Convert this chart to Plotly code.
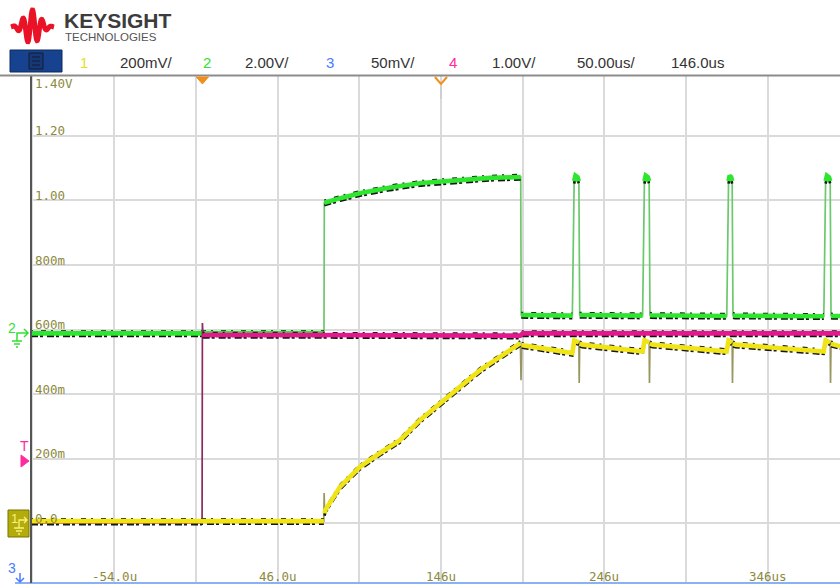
import numpy as np
import plotly.graph_objects as go

# ---------------- data (time in us, value in screen volts of ch1 scale) ----------------
T_RANGE = [-104.9, 390.2]
V_RANGE = [-0.186, 1.386]

Y_TICKS = [0.0, 0.2, 0.4, 0.6, 0.8, 1.0, 1.2]
Y_TICK_TEXT = ["0.0", "200m", "400m", "600m", "800m", "1.00", "1.20"]
X_TICKS = [-54, 46, 146, 246, 346]
X_TICK_TEXT = ["-54.0u", "46.0u", "146u", "246u", "346us"]

# channel 2 (green)
green_t = [-104.9, 74.4, 74.6, 79, 85, 97, 115, 134, 157, 176, 194.8, 195.1, 196.5,
           226.4, 227.5, 228.3, 229.6, 230.4, 230.9, 232.0,
           269.4, 270.5, 271.3, 272.6, 273.4, 273.9, 275.0,
           320.9, 322.0, 322.6, 323.6, 324.2, 324.7, 325.8,
           380.3, 381.4, 382.2, 383.5, 384.2, 384.7, 385.8, 390.2]
green_v = [0.588, 0.588, 0.993, 1.000, 1.008, 1.023, 1.040, 1.054, 1.064, 1.070, 1.073, 0.645, 0.645,
           0.643, 1.060, 1.077, 1.072, 1.060, 0.645, 0.645,
           0.643, 1.060, 1.077, 1.072, 1.060, 0.645, 0.644,
           0.642, 1.060, 1.077, 1.072, 1.060, 0.644, 0.643,
           0.641, 1.060, 1.077, 1.072, 1.060, 0.643, 0.642, 0.642]

# channel 4 (pink)
pink_t = [-104.9, -0.2, 0.0, 0.3, 0.8, 60, 120, 194.5, 196, 260, 330, 390.2]
pink_v = [0.004, 0.004, 0.620, 0.585, 0.583, 0.583, 0.582, 0.581, 0.588, 0.588, 0.587, 0.588]

# channel 1 (yellow)
yellow_t = [-104.9, 74.3, 74.5, 74.8, 75.2, 84.2, 96.4, 108.7, 120.9, 133.1, 145.4, 157.6, 169.9,
            182.1, 194.6, 195.0, 195.4, 197.5,
            226.4, 227.6, 230.4, 230.6, 230.9, 232.5,
            269.4, 270.6, 273.4, 273.6, 273.9, 275.5,
            320.8, 322.0, 324.2, 324.4, 324.7, 326.3,
            380.2, 381.4, 384.2, 384.4, 384.7, 386.3, 390.2]
yellow_v = [0.006, 0.006, 0.093, 0.030, 0.040, 0.112, 0.174, 0.217, 0.257, 0.319, 0.372, 0.422, 0.474,
            0.515, 0.558, 0.443, 0.552, 0.550,
            0.527, 0.566, 0.560, 0.434, 0.556, 0.553,
            0.532, 0.566, 0.560, 0.434, 0.556, 0.553,
            0.532, 0.566, 0.560, 0.434, 0.556, 0.553,
            0.532, 0.566, 0.560, 0.434, 0.556, 0.553, 0.548]

HEADER_ITEMS = [("1", "#e6df1c"), ("200mV/", "#333333"), ("2", "#33e033"), ("2.00V/", "#333333"),
                ("3", "#4a7cff"), ("50mV/", "#333333"), ("4", "#ff2aa0"), ("1.00V/", "#333333"),
                ("50.00us/", "#333333"), ("146.0us", "#333333")]
HEADER_X = [84, 146, 207, 267, 330, 393, 453, 514, 606, 697]

GREEN = "#2fe62f"
PINK = "#e4178d"
YELLOW = "#f0e414"
LABEL_COLOR = "#8c8a3c"

# ---------------- helpers ----------------
W, H = 840, 585
L, R, TOP, B = 31, 0, 76, 2
PW, PH = W - L - R, H - TOP - B
V_PER_PX = (V_RANGE[1] - V_RANGE[0]) / PH


def px(x):
    return (x - L) / PW


def py(y):
    return (H - B - y) / PH


def thick_parts(t, v, slope=0.05):
    ot, ov = [], []
    for i in range(len(t)):
        if i > 0:
            dt = abs(t[i] - t[i - 1]) + 1e-9
            if abs(v[i] - v[i - 1]) / dt > slope:
                ot.append(None)
                ov.append(None)
        ot.append(t[i])
        ov.append(v[i])
    return ot, ov


fig = go.Figure()


def add_channel(t, v, color, edge_color):
    fig.add_trace(go.Scatter(x=t, y=v, mode="lines", line=dict(color=edge_color, width=1.7),
                             hoverinfo="skip", showlegend=False))
    tt, vv = thick_parts(t, v)
    lo = [None if a is None else a - 2.5 * V_PER_PX for a in vv]
    hi = [None if a is None else a + 2.3 * V_PER_PX for a in vv]
    fig.add_trace(go.Scatter(x=tt, y=lo, mode="lines",
                             line=dict(color="#151515", width=2.6, dash="7px,2px,3px,4px"),
                             hoverinfo="skip", showlegend=False))
    fig.add_trace(go.Scatter(x=tt, y=hi, mode="lines",
                             line=dict(color="#151515", width=1.8, dash="2px,8px,5px,5px"),
                             hoverinfo="skip", showlegend=False))
    fig.add_trace(go.Scatter(x=tt, y=vv, mode="lines", line=dict(color=color, width=4.6),
                             hoverinfo="skip", showlegend=False))


add_channel(green_t, green_v, GREEN, "#6cc86c")
add_channel(pink_t, pink_v, PINK, "#8a2a5e")
add_channel(yellow_t, yellow_v, YELLOW, "#9a9660")

grid = dict(gridcolor="#dadada", gridwidth=2)

fig.update_layout(
    width=W, height=H,
    margin=dict(l=L, r=R, t=TOP, b=B),
    paper_bgcolor="white", plot_bgcolor="white",
    showlegend=False,
    xaxis=dict(range=T_RANGE, tickvals=X_TICKS, showgrid=True, showticklabels=False,
               minor=dict(tick0=-54, dtick=50, showgrid=True, **grid),
               ticks="", zeroline=False, showline=False, fixedrange=True, **grid),
    yaxis=dict(range=V_RANGE, tickvals=Y_TICKS, showgrid=True, showticklabels=False,
               ticks="", zeroline=False, showline=False, fixedrange=True, **grid),
)

shapes = []
ann = []

# axis labels (scope style, inside the grid)
for val, txt in zip(Y_TICKS, Y_TICK_TEXT):
    ann.append(dict(xref="paper", yref="y", x=px(33), y=val, xanchor="left", yanchor="middle", yshift=5,
                    text=txt, showarrow=False,
                    font=dict(family="DejaVu Sans Mono", size=12.5, color=LABEL_COLOR)))
for val, txt in zip(X_TICKS, X_TICK_TEXT):
    ann.append(dict(xref="x", yref="paper", x=val, y=py(576), xanchor="center", yanchor="middle",
                    text=txt, showarrow=False,
                    font=dict(family="DejaVu Sans Mono", size=12.5, color=LABEL_COLOR)))
ann.append(dict(xref="paper", yref="paper", x=px(33), y=py(84), xanchor="left", yanchor="middle",
                text="1.40V", showarrow=False,
                font=dict(family="DejaVu Sans Mono", size=12.5, color=LABEL_COLOR)))

# plot borders
shapes.append(dict(type="line", xref="paper", yref="paper", x0=px(15), x1=px(840), y0=py(583), y1=py(583),
                   line=dict(color="#8ab0f5", width=2)))
shapes.append(dict(type="line", xref="paper", yref="paper", x0=px(31), x1=px(31), y0=py(76), y1=py(583),
                   line=dict(color="#555555", width=2)))
shapes.append(dict(type="line", xref="paper", yref="paper", x0=px(0), x1=px(840), y0=py(75.5), y1=py(75.5),
                   line=dict(color="#8c8c8c", width=2)))

# header button
shapes.append(dict(type="rect", xref="paper", yref="paper", x0=px(10), x1=px(62), y0=py(72), y1=py(50),
                   fillcolor="#16428f", line=dict(color="#0d2a5e", width=1)))
shapes.append(dict(type="rect", xref="paper", yref="paper", x0=px(29), x1=px(43), y0=py(69), y1=py(53),
                   fillcolor="#14397a", line=dict(color="#1a1a2a", width=1)))
for yy in (57, 61, 65):
    shapes.append(dict(type="line", xref="paper", yref="paper", x0=px(32), x1=px(40), y0=py(yy), y1=py(yy),
                       line=dict(color="#1a1a2a", width=1)))

# logo waveform
lx = np.linspace(11, 54, 140)
env = np.exp(-((lx - 32) / 11.0) ** 2)
ly = 27 - 17 * env * np.sin((lx - 11) / 43 * 2 * np.pi * 4.5)
path = "M " + " L ".join(f"{px(a):.5f},{py(b):.5f}" for a, b in zip(lx, ly))
shapes.append(dict(type="path", xref="paper", yref="paper", path=path,
                   line=dict(color="#ea1226", width=5)))
ann.append(dict(xref="paper", yref="paper", x=px(62), y=py(21), xanchor="left", yanchor="middle",
                text="<b>KEYSIGHT</b>", showarrow=False,
                font=dict(family="Liberation Sans", size=21, color="#3c3c3c")))
ann.append(dict(xref="paper", yref="paper", x=px(63), y=py(37.5), xanchor="left", yanchor="middle",
                text="TECHNOLOGIES", showarrow=False,
                font=dict(family="Liberation Sans", size=11.5, color="#555555")))

# header channel text
for (txt, col), xc in zip(HEADER_ITEMS, HEADER_X):
    ann.append(dict(xref="paper", yref="paper", x=px(xc), y=py(62), xanchor="center", yanchor="middle",
                    text=txt, showarrow=False,
                    font=dict(family="Liberation Sans", size=15, color=col)))

# trigger markers
shapes.append(dict(type="path", xref="x", yref="paper",
                   path=f"M -3.7,{py(77)} L 3.7,{py(77)} L 0,{py(84)} Z",
                   fillcolor="#f0901c", line=dict(color="#f0901c", width=1)))
shapes.append(dict(type="path", xref="x", yref="paper",
                   path=f"M 142.3,{py(77)} L 146,{py(84)} L 149.7,{py(77)}",
                   line=dict(color="#f0901c", width=2)))
shapes.append(dict(type="line", xref="x", yref="paper", x0=146, x1=146, y0=py(86), y1=py(99),
                   line=dict(color="#cfcfcf", width=2)))

# left side markers
ann.append(dict(xref="paper", yref="paper", x=px(12), y=py(328), xanchor="center", yanchor="middle",
                text="2", showarrow=False, font=dict(family="Liberation Sans", size=14, color="#33e033")))
shapes.append(dict(type="path", xref="paper", yref="paper",
                   path=f"M {px(17)},{py(341)} L {px(17)},{py(333)} L {px(28)},{py(333)} M {px(24)},{py(329)} L {px(28)},{py(333)} L {px(24)},{py(337)} "
                        f"M {px(12)},{py(341)} L {px(22)},{py(341)} M {px(14)},{py(344)} L {px(20)},{py(344)} M {px(16)},{py(347)} L {px(18)},{py(347)}",
                   line=dict(color="#33e033", width=1.5)))
ann.append(dict(xref="paper", yref="paper", x=px(24), y=py(446), xanchor="center", yanchor="middle",
                text="T", showarrow=False, font=dict(family="Liberation Sans", size=14, color="#ff2aa0")))
shapes.append(dict(type="path", xref="paper", yref="paper",
                   path=f"M {px(21)},{py(455)} L {px(29)},{py(461)} L {px(21)},{py(467)} Z",
                   fillcolor="#ff2aa0", line=dict(color="#ff2aa0", width=1)))
shapes.append(dict(type="rect", xref="paper", yref="paper", x0=px(8), x1=px(29), y0=py(537), y1=py(510),
                   fillcolor="#b4ac0c", line=dict(color="#7a7400", width=1)))
ann.append(dict(xref="paper", yref="paper", x=px(14), y=py(518), xanchor="center", yanchor="middle",
                text="1", showarrow=False, font=dict(family="Liberation Sans", size=13, color="#f7f27a")))
shapes.append(dict(type="path", xref="paper", yref="paper",
                   path=f"M {px(19)},{py(528)} L {px(19)},{py(520)} L {px(27)},{py(520)} M {px(24)},{py(517)} L {px(27)},{py(520)} L {px(24)},{py(523)} "
                        f"M {px(14)},{py(528)} L {px(24)},{py(528)} M {px(16)},{py(531)} L {px(22)},{py(531)} M {px(18)},{py(534)} L {px(20)},{py(534)}",
                   line=dict(color="#f7f27a", width=1.3)))
ann.append(dict(xref="paper", yref="paper", x=px(12), y=py(568), xanchor="center", yanchor="middle",
                text="3", showarrow=False, font=dict(family="Liberation Sans", size=14, color="#4a7cff")))
shapes.append(dict(type="path", xref="paper", yref="paper",
                   path=f"M {px(20)},{py(573)} L {px(20)},{py(582)} M {px(16)},{py(578)} L {px(20)},{py(582)} L {px(24)},{py(578)}",
                   line=dict(color="#4a7cff", width=1.5)))

fig.update_layout(shapes=shapes, annotations=ann)

fig.write_html("out.html", config={"displayModeBar": False},
               post_script="document.body.style.margin='0';document.body.style.overflow='hidden';")
